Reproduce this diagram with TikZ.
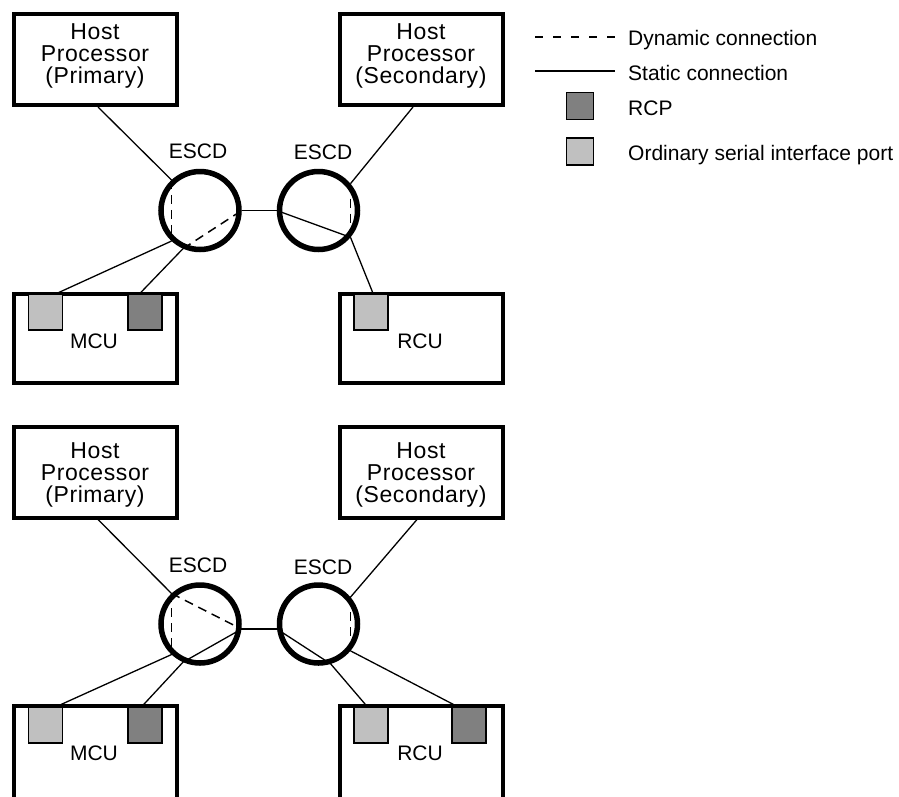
\documentclass[tikz,border=0pt]{standalone}
\usepackage{fontspec}
\setmainfont{Liberation Sans}
\newfontfamily\hostfont[LetterSpace=2.5]{Liberation Sans}
\definecolor{portlight}{HTML}{C0C0C0}
\definecolor{portdark}{HTML}{808080}
\tikzset{
  hostbox/.style={draw, line width=4pt, minimum width=163pt, minimum height=91pt, inner sep=0pt},
  unitbox/.style={draw, line width=4pt, minimum width=163pt, inner sep=0pt},
  hosttext/.style={align=center, inner sep=0pt, font=\hostfont\fontsize{23}{22}\selectfont},
  lbl/.style={inner sep=0pt, font=\fontsize{21}{24}\selectfont},
  port/.style={draw, line width=1.4pt, minimum width=34pt, minimum height=36pt, inner sep=0pt},
  lport/.style={port, fill=portlight},
  dport/.style={port, fill=portdark},
  switch/.style={circle, draw, line width=5.5pt, minimum size=78pt, inner sep=0pt},
  conn/.style={line width=1.3pt},
  dyn/.style={line width=1.5pt, dash pattern=on 9pt off 6pt},
}
\begin{document}
\begin{tikzpicture}[x=1pt, y=-1pt]
\useasboundingbox (0,0) rectangle (899,796);
\clip (0,0) rectangle (899,796);

% ---------- top diagram ----------
\node[hostbox] (hpT1) at (95,59.5) {};
\node[hosttext] (hpT1t) at (95,55.5) {Host\\Processor\\(Primary)};
\node[hostbox] (hpT2) at (421,59.5) {};
\node[hosttext] (hpT2t) at (421,55.5) {Host\\Processor\\(Secondary)};

\node[unitbox, minimum height=89pt] (mcuT) at (95,338.5) {};
\node[unitbox, minimum height=89pt] (rcuT) at (421,338.5) {};
\node[lport] (mcuTa) at (45.5,312) {};
\node[dport] (mcuTb) at (145,312) {};
\node[lport] (rcuTa) at (371,312) {};
\node[lbl] (mcuTt) at (94,341.5) {MCU};
\node[lbl] (rcuTt) at (420,341.5) {RCU};

\node[switch] (esTL) at (200,210.5) {};
\node[switch] (esTR) at (318.5,210.5) {};
\node[lbl] (esTLt) at (198,151.5) {ESCD};
\node[lbl] (esTRt) at (323,152) {ESCD};

\draw[conn] ([xshift=3pt]hpT1.south) -- (esTL.133);
\draw[conn] ([xshift=-8pt]hpT2.south) -- (esTR.40);
\draw[conn] (esTL.east) -- (esTR.west);
\draw[dyn] (esTL.133) -- (esTL.227);
\draw[conn] ([xshift=11.5pt]mcuTa.north) -- (esTL.227);
\draw[conn] ([xshift=-5pt]mcuTb.north) -- (esTL.246);
\draw[dyn] (esTL.246) -- (esTL.east);
\draw[conn] (esTR.west) -- (esTR.-40);
\draw[dyn] (esTR.40) -- (esTR.-40);
\draw[conn] (esTR.-40) -- ([xshift=2pt]rcuTa.north);

% ---------- bottom diagram ----------
\node[hostbox] (hpB1) at (95,472) {};
\node[hosttext] (hpB1t) at (95,474.5) {Host\\Processor\\(Primary)};
\node[hostbox] (hpB2) at (421,472) {};
\node[hosttext] (hpB2t) at (421,474.5) {Host\\Processor\\(Secondary)};

\node[unitbox, minimum height=144pt] (mcuB) at (95,778) {};
\node[unitbox, minimum height=144pt] (rcuB) at (421,778) {};
\node[lport] (mcuBa) at (45.5,725) {};
\node[dport] (mcuBb) at (145,725) {};
\node[lport] (rcuBa) at (371,725) {};
\node[dport] (rcuBb) at (469,725) {};
\node[lbl] (mcuBt) at (94,753.5) {MCU};
\node[lbl] (rcuBt) at (420,753.5) {RCU};

\node[switch] (esBL) at (200,624) {};
\node[switch] (esBR) at (318.5,624) {};
\node[lbl] (esBLt) at (198,565) {ESCD};
\node[lbl] (esBRt) at (323,567) {ESCD};

\draw[conn] ([xshift=3pt]hpB1.south) -- (esBL.133);
\draw[conn] ([xshift=-4pt]hpB2.south) -- (esBR.40);
\draw[conn] (esBL.-7) -- (esBR.187);
\draw[dyn] (esBL.133) -- (esBL.227);
\draw[dyn] (esBL.133) -- (esBL.-7);
\draw[conn] ([xshift=11.5pt]mcuBa.north) -- (esBL.227);
\draw[conn] (esBL.-7) -- (esBL.246) -- ([xshift=-3pt]mcuBb.north);
\draw[dyn] (esBR.40) -- (esBR.-40);
\draw[conn] (esBR.-40) -- ([xshift=-12pt]rcuBb.north);
\draw[conn] (esBR.187) -- (esBR.-73) -- ([xshift=-4pt]rcuBa.north);

% ---------- legend ----------
\coordinate (lgd1) at (535,37);
\coordinate (lgd2) at (615,37);
\coordinate (lgs1) at (535,71);
\coordinate (lgs2) at (615,71);
\draw[line width=1.3pt, dash pattern=on 8pt off 10pt] (lgd1) -- (lgd2);
\draw[conn] (lgs1) -- (lgs2);
\node[port, fill=portdark, minimum width=27pt, minimum height=27pt] (lgr) at (580,106) {};
\node[port, fill=portlight, minimum width=27pt, minimum height=27pt] (lgo) at (580,151.5) {};
\node[lbl, anchor=base west] (lgdt) at (628,45) {Dynamic connection};
\node[lbl, anchor=base west] (lgst) at (628,80) {Static connection};
\node[lbl, anchor=base west] (lgrt) at (628,115) {RCP};
\node[lbl, anchor=base west] (lgot) at (628,160) {Ordinary serial interface port};
\end{tikzpicture}
\end{document}
